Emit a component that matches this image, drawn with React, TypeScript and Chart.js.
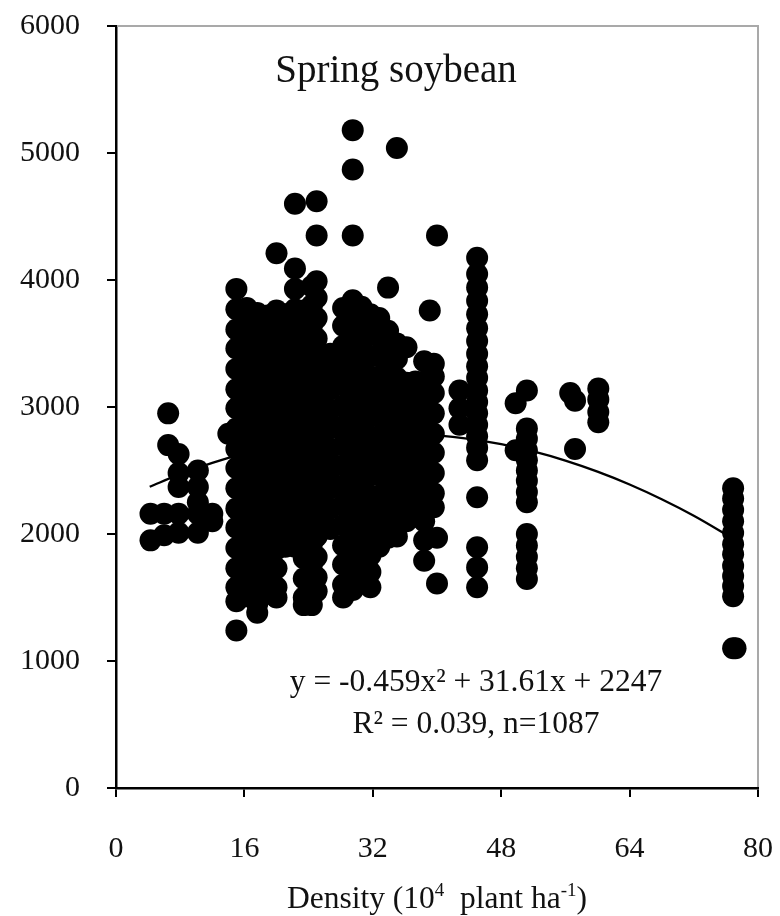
import { useEffect, useRef } from 'react';
import { Chart, registerables } from 'chart.js';

Chart.register(...registerables);

// ---------------- DATA ----------------
const xTicks = [0, 16, 32, 48, 64, 80];
const yTicks = [0, 1000, 2000, 3000, 4000, 5000, 6000];

const chartTitle = 'Spring soybean';
const equationLine1 = 'y = -0.459x\u00B2 + 31.61x + 2247';
const equationLine2 = 'R\u00B2 = 0.039, n=1087';

// low densities (< 14 x10^4 plant/ha)
const lowDensity = [4.3, 6.0, 6.5, 7.8, 10.2, 12.0];
const lowYields = [
  [2160, 1950],
  [2160, 1990],
  [2950, 2700],
  [2630, 2480, 2370, 2160, 2010],
  [2500, 2370, 2250, 2160, 2010],
  [2160, 2100],
];

// core densities (14 - 43)
const coreDensity = [14.0, 15.0, 16.3, 17.6, 18.9, 20.0, 21.1, 22.3, 23.4, 24.4, 25.0, 26.7, 28.3, 29.5, 30.6, 31.7, 32.8, 33.9, 35.0, 36.2, 37.3, 38.4, 39.1, 39.6, 40.0, 42.8];
const coreYields = [
  [2790],
  [3930, 3770, 3610, 3460, 3300, 3140, 2990, 2830, 2670, 2520, 2360, 2200, 2050, 1890, 1730, 1580, 1470, 1240],
  [3780, 3690, 3530, 3380, 3220, 3060, 2910, 2750, 2590, 2440, 2280, 2120, 1970, 1810, 1650, 1510],
  [3740, 3610, 3450, 3300, 3140, 2980, 2830, 2670, 2510, 2360, 2200, 2040, 1890, 1730, 1570, 1450, 1380],
  [3720, 3530, 3380, 3220, 3060, 2910, 2750, 2590, 2440, 2280, 2120, 1970, 1810, 1650, 1530],
  [4210, 3760, 3610, 3450, 3290, 3140, 2980, 2820, 2670, 2510, 2350, 2200, 2040, 1880, 1730, 1580, 1500],
  [3730, 3530, 3370, 3220, 3060, 2900, 2750, 2590, 2430, 2280, 2120, 1960, 1900],
  [4600, 4090, 3930, 3770, 3610, 3460, 3300, 3140, 2990, 2830, 2670, 2520, 2360, 2200, 2050, 1900],
  [3760, 3690, 3530, 3380, 3220, 3060, 2910, 2750, 2590, 2440, 2280, 2120, 1970, 1810, 1650, 1500, 1440],
  [3950, 3800, 3640, 3480, 3330, 3170, 3010, 2860, 2700, 2540, 2390, 2230, 2070, 1920, 1760, 1600, 1440],
  [4620, 4350, 3990, 3860, 3700, 3540, 3390, 3230, 3070, 2920, 2760, 2600, 2450, 2290, 2130, 1980, 1820, 1660, 1550],
  [3420, 3300, 3140, 2980, 2830, 2670, 2510, 2360, 2200, 2040],
  [3780, 3640, 3480, 3320, 3170, 3010, 2850, 2700, 2540, 2380, 2230, 2070, 1910, 1760, 1600, 1500],
  [5180, 4870, 4350, 3840, 3700, 3560, 3400, 3240, 3090, 2930, 2770, 2620, 2460, 2300, 2150, 1990, 1830, 1680, 1560],
  [3790, 3630, 3480, 3320, 3160, 3010, 2850, 2690, 2540, 2380, 2220, 2070, 1910, 1750, 1620],
  [3730, 3570, 3400, 3240, 3090, 2930, 2770, 2620, 2460, 2300, 2150, 1990, 1830, 1700, 1580],
  [3700, 3550, 3400, 3240, 3080, 2930, 2770, 2610, 2460, 2300, 2140, 1990, 1900],
  [3940, 3600, 3450, 3310, 3150, 3000, 2840, 2680, 2530, 2370, 2210, 2060, 1970],
  [5040, 3500, 3380, 3230, 3070, 2920, 2760, 2600, 2450, 2290, 2130, 1980],
  [3470, 3190, 3040, 2880, 2720, 2570, 2410, 2250, 2100],
  [3200, 3080, 2960, 2800, 2650, 2490, 2330, 2180],
  [3360, 3200, 3040, 2890, 2730, 2570, 2420, 2260, 2100, 1950, 1790],
  [3760],
  [3340, 3240, 3110, 2950, 2790, 2640, 2480, 2320, 2210],
  [4350, 1970, 1610],
  [3130, 2990, 2860],
];

// high densities (> 43)
const highDensity = [45.0, 49.8, 51.2, 56.6, 57.2, 60.1, 76.9, 77.2];
const highYields = [
  [4175, 4048, 3940, 3836, 3730, 3620, 3520, 3420, 3320, 3230, 3130, 3040, 2950, 2860, 2770, 2680, 2580, 2290, 1895, 1737, 1580],
  [3030, 2660],
  [3130, 2830, 2750, 2660, 2580, 2500, 2420, 2330, 2250, 2000, 1910, 1820, 1730, 1645],
  [3110],
  [3050, 2670],
  [3145, 3060, 2960, 2880],
  [2360, 2280, 2190, 2100, 2010, 1920, 1840, 1750, 1670, 1590, 1510, 1100],
  [1100],
];

// fitted quadratic (y = -0.459x^2 + 31.61x + 2247)
const fitDensity = [4.2, 8, 12, 16, 20, 24, 28, 32, 36, 40, 44, 48, 52, 56, 60, 64, 68, 72, 77];
const fitYield = [2372, 2471, 2560, 2635, 2696, 2741, 2772, 2789, 2790, 2777, 2749, 2707, 2650, 2578, 2491, 2390, 2274, 2144, 1960];

// ---------------- STYLE ----------------
const FONT = '"Liberation Serif", "Times New Roman", "DejaVu Serif", serif';
const W = 780;
const H = 916;

function buildPoints(xs: number[], ys: number[][]) {
  const out: { x: number; y: number }[] = [];
  xs.forEach((x, i) => ys[i].forEach((y) => out.push({ x, y })));
  return out;
}

const overlayPlugin = {
  id: 'overlay',
  afterDraw(chart: any) {
    const { ctx, chartArea } = chart;
    const { left, right, top, bottom } = chartArea;
    ctx.save();
    // light frame on top and right
    ctx.strokeStyle = '#a9a9a9';
    ctx.lineWidth = 2;
    ctx.beginPath();
    ctx.moveTo(left + 1, top);
    ctx.lineTo(right, top);
    ctx.lineTo(right, bottom - 1);
    ctx.stroke();

    ctx.fillStyle = '#111';
    ctx.textAlign = 'center';
    ctx.textBaseline = 'alphabetic';
    ctx.font = `39px ${FONT}`;
    ctx.fillText(chartTitle, 396, 82);

    ctx.font = `31.5px ${FONT}`;
    ctx.fillText(equationLine1, 476, 691);
    ctx.fillText(equationLine2, 476, 733);

    // x axis title with superscripts
    const base = 31.5;
    const sup = 19;
    const parts: [string, boolean][] = [
      ['Density (10', false],
      ['4', true],
      ['  plant ha', false],
      ['-1', true],
      [')', false],
    ];
    let total = 0;
    const widths = parts.map(([t, s]) => {
      ctx.font = `${s ? sup : base}px ${FONT}`;
      const w = ctx.measureText(t).width;
      total += w;
      return w;
    });
    let x = 437 - total / 2;
    const baseline = 908;
    ctx.textAlign = 'left';
    parts.forEach(([t, s], i) => {
      ctx.font = `${s ? sup : base}px ${FONT}`;
      ctx.fillText(t, x, s ? baseline - 12 : baseline);
      x += widths[i];
    });
    ctx.restore();
  },
};

export default function App() {
  const ref = useRef<HTMLCanvasElement | null>(null);

  useEffect(() => {
    if (!ref.current) return;
    const points = [
      ...buildPoints(lowDensity, lowYields),
      ...buildPoints(coreDensity, coreYields),
      ...buildPoints(highDensity, highYields),
    ];
    const fit = fitDensity.map((x, i) => ({ x, y: fitYield[i] }));

    const chart = new Chart(ref.current, {
      type: 'scatter',
      data: {
        datasets: [
          {
            label: 'Observations',
            data: points,
            backgroundColor: '#000',
            borderWidth: 0,
            pointRadius: 11,
            pointHoverRadius: 11,
            order: 2,
          },
          {
            label: 'Fit',
            data: fit,
            showLine: true,
            borderColor: '#000',
            borderWidth: 2.3,
            pointRadius: 0,
            cubicInterpolationMode: 'monotone',
            order: 1,
          } as any,
        ],
      },
      options: {
        animation: false,
        responsive: false,
        maintainAspectRatio: false,
        devicePixelRatio: 1,
        layout: { padding: { top: 26, right: 22, left: 0, bottom: 0 } },
        plugins: {
          legend: { display: false },
          tooltip: { enabled: false },
          title: { display: false },
        },
        scales: {
          x: {
            type: 'linear',
            min: xTicks[0],
            max: xTicks[xTicks.length - 1],
            afterBuildTicks: (s: any) => {
              s.ticks = xTicks.map((v) => ({ value: v }));
            },
            afterFit: (s: any) => {
              s.height = 128;
              s.paddingLeft = 0;
              s.paddingRight = 0;
              s.paddingTop = 0;
              s.paddingBottom = 0;
            },
            ticks: {
              color: '#111',
              font: { family: FONT, size: 30 },
              padding: 34,
              maxRotation: 0,
              callback: (v: any) => String(v),
            },
            grid: {
              drawOnChartArea: false,
              drawTicks: true,
              tickLength: 9,
              color: '#000',
              lineWidth: 2,
            },
            border: { display: true, color: '#000', width: 2.5 },
          },
          y: {
            type: 'linear',
            min: yTicks[0],
            max: yTicks[yTicks.length - 1],
            afterBuildTicks: (s: any) => {
              s.ticks = yTicks.map((v) => ({ value: v }));
            },
            afterFit: (s: any) => {
              s.width = 116;
              s.paddingLeft = 0;
              s.paddingRight = 0;
              s.paddingTop = 0;
              s.paddingBottom = 0;
            },
            ticks: {
              color: '#111',
              font: { family: FONT, size: 30 },
              padding: 27,
              callback: (v: any) => String(v),
            },
            grid: {
              drawOnChartArea: false,
              drawTicks: true,
              tickLength: 9,
              color: '#000',
              lineWidth: 2,
            },
            border: { display: true, color: '#000', width: 2.5 },
          },
        },
      },
      plugins: [overlayPlugin],
    });
    return () => chart.destroy();
  }, []);

  return (
    <div style={{ position: 'absolute', left: 0, top: 0, width: W, height: H, background: '#fff' }}>
      <canvas ref={ref} width={W} height={H} style={{ width: W, height: H, display: 'block' }} />
    </div>
  );
}
